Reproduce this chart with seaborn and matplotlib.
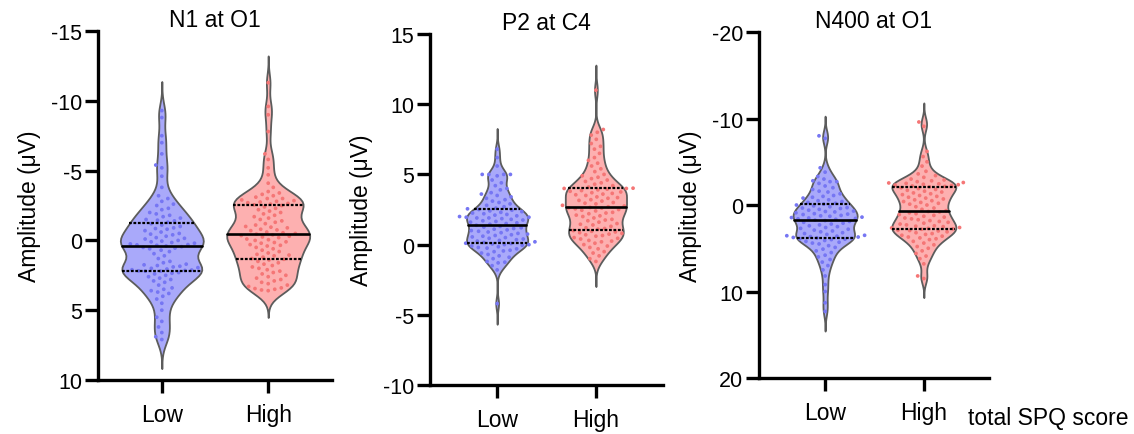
import numpy as np
import pandas as pd
import matplotlib
matplotlib.use("Agg")
import matplotlib.pyplot as plt
import seaborn as sns

groups = ["Low", "High"]

# N1 amplitude at O1 (µV)
n1_low = [-9.3, -8.8, -7.5, -7.0, -6.2, -5.4, -5.2, -4.6, -3.8, -3.2, -3.0, -2.8, -2.6,
          -2.5, -2.3, -2.2, -2.0, -1.9, -1.8, -1.7, -1.6, -1.5, -1.45, -1.4, -1.3,
          -1.2, -1.1, -1.0, -0.9, -0.85, -0.8, -0.7, -0.6, -0.5, -0.45, -0.4, -0.3,
          -0.2, -0.15, -0.1, 0.0, 0.05, 0.1, 0.15, 0.2, 0.25, 0.3, 0.32, 0.35, 0.4,
          0.45, 0.5, 0.55, 0.6, 0.7, 0.8, 0.95, 1.1, 1.3, 1.5, 1.6, 1.7, 1.75, 1.8,
          1.85, 1.9, 1.95, 2.0, 2.05, 2.1, 2.12, 2.15, 2.18, 2.2, 2.2,
          2.3, 2.35, 2.4, 2.5, 2.6, 2.7, 2.8, 2.9, 3.0, 3.2, 3.4, 3.5, 3.6, 3.7, 3.8,
          4.0, 4.2, 4.5, 5.0, 5.5, 5.8, 6.2, 6.6, 6.9, 7.1]
n1_high = [-11.3, -9.6, -9.0, -7.8, -6.2, -5.8, -5.2, -4.7, -4.1, -3.8, -3.5, -3.4, -3.3,
           -3.2, -3.1, -3.0, -3.0, -2.9, -2.85, -2.8, -2.75, -2.7, -2.65, -2.6, -2.55,
           -2.5, -2.4, -2.3, -2.2, -2.1, -2.0, -1.9, -1.8, -1.7, -1.6, -1.5, -1.4, -1.3,
           -1.2, -1.1, -1.0, -0.95, -0.9, -0.8, -0.75, -0.7, -0.6, -0.55, -0.5, -0.45,
           -0.4, -0.35, -0.3, -0.25, -0.2, -0.1, -0.05, 0.0, 0.1, 0.15, 0.2, 0.3, 0.35,
           0.4, 0.5, 0.6, 0.7, 0.8, 0.9, 1.0, 1.05, 1.1, 1.2, 1.3, 1.35,
           1.4, 1.5, 1.6, 1.7, 1.8, 1.9, 2.0, 2.1, 2.2, 2.3, 2.4, 2.5, 2.6, 2.7, 2.8,
           2.9, 3.0, 3.1, 3.2, 3.3, 3.4, 3.45, 3.5, 3.55, 3.6]

# P2 amplitude at C4 (µV)
p2_low = [-4.2, -1.8, -1.5, -1.3, -1.25, -1.2, -1.0, -0.9, -0.8, -0.7, -0.6, -0.5, -0.45,
          -0.4, -0.3, -0.25, -0.2, -0.15, -0.1, -0.05, 0.0, 0.0, 0.05, 0.08, 0.1,
          0.15, 0.2, 0.25, 0.3, 0.35, 0.4, 0.45, 0.5, 0.55, 0.6, 0.65, 0.7, 0.75, 0.8,
          0.85, 0.9, 0.95, 1.0, 1.05, 1.1, 1.15, 1.2, 1.25, 1.3, 1.38,
          1.45, 1.5, 1.55, 1.6, 1.65, 1.7, 1.75, 1.8, 1.85, 1.9, 1.9, 1.95, 1.95, 2.0,
          2.05, 2.1, 2.15, 2.2, 2.25, 2.3, 2.35, 2.4, 2.45, 2.5, 2.55,
          2.6, 2.7, 2.8, 2.9, 3.0, 3.1, 3.2, 3.3, 3.4, 3.5, 3.6, 3.7, 3.9, 4.0, 4.2,
          4.4, 4.6, 4.9, 5.0, 5.0, 5.0, 5.0, 5.6, 6.2, 6.8]
p2_high = [-1.2, -1.0, -0.8, -0.6, -0.5, -0.3, -0.2, -0.1, 0.0, 0.1, 0.2, 0.25, 0.3,
           0.4, 0.45, 0.5, 0.6, 0.65, 0.7, 0.75, 0.8, 0.85, 0.9, 0.95, 1.0,
           1.1, 1.15, 1.2, 1.3, 1.4, 1.45, 1.5, 1.6, 1.7, 1.75, 1.8, 1.9, 2.0, 2.05,
           2.1, 2.2, 2.25, 2.3, 2.4, 2.45, 2.5, 2.55, 2.6, 2.62, 2.65,
           2.7, 2.75, 2.8, 2.9, 2.95, 3.0, 3.1, 3.15, 3.2, 3.3, 3.35, 3.4, 3.5, 3.55,
           3.6, 3.65, 3.7, 3.75, 3.8, 3.85, 3.9, 3.95, 4.0, 4.0, 4.02,
           4.1, 4.2, 4.3, 4.4, 4.5, 4.6, 4.7, 4.8, 4.9, 5.0, 5.2, 5.4, 5.6, 5.8, 6.0,
           6.2, 6.5, 6.8, 7.0, 7.2, 7.5, 7.8, 8.0, 8.2, 11.0]

# N400 amplitude at O1 (µV)
n400_low = [-8.0, -7.7, -4.3, -3.8, -3.3, -3.0, -2.8, -2.7, -2.7, -2.5, -2.2, -2.0, -1.8,
            -1.6, -1.5, -1.3, -1.1, -1.0, -0.9, -0.8, -0.6, -0.5, -0.4, -0.3, -0.2,
            -0.1, 0.0, 0.1, 0.2, 0.3, 0.35, 0.4, 0.5, 0.6, 0.7, 0.75, 0.8, 0.9, 1.0,
            1.05, 1.1, 1.2, 1.25, 1.3, 1.4, 1.45, 1.5, 1.55, 1.6, 1.65,
            1.75, 1.8, 1.9, 2.0, 2.1, 2.2, 2.3, 2.4, 2.5, 2.6, 2.7, 2.8, 2.9, 3.0,
            3.1, 3.2, 3.3, 3.4, 3.5, 3.55, 3.6, 3.65, 3.7, 3.75, 3.8,
            3.85, 3.9, 3.95, 4.0, 4.1, 4.2, 4.3, 4.4, 4.5, 4.7, 4.9, 5.1, 5.3, 5.5, 5.8,
            6.0, 6.3, 6.6, 7.0, 7.5, 8.2, 9.2, 10.0, 11.3, 12.3]
n400_high = [-9.6, -9.1, -6.2, -5.6, -5.0, -4.5, -3.9, -3.6, -3.4, -3.2, -3.0, -2.9, -2.8,
             -2.7, -2.6, -2.55, -2.5, -2.45, -2.4, -2.35, -2.3, -2.25, -2.2, -2.15, -2.1,
             -2.0, -1.9, -1.8, -1.7, -1.6, -1.5, -1.4, -1.3, -1.2, -1.1, -1.0, -0.9, -0.8,
             -0.7, -0.6, -0.5, -0.4, -0.3, -0.2, -0.1, 0.0, 0.2, 0.35, 0.5, 0.65,
             0.75, 0.8, 0.9, 1.0, 1.1, 1.2, 1.3, 1.4, 1.5, 1.6, 1.7, 1.8, 1.9, 2.0,
             2.1, 2.2, 2.3, 2.4, 2.45, 2.5, 2.6, 2.65, 2.7, 2.75, 2.8,
             2.9, 2.95, 3.0, 3.1, 3.2, 3.3, 3.4, 3.5, 3.6, 3.7, 3.8, 3.9, 4.0, 4.2, 4.4,
             4.6, 4.8, 5.0, 5.3, 5.6, 5.9, 6.2, 6.8, 8.2, 8.5]

titles = ["N1 at O1", "P2 at C4", "N400 at O1"]
y_ticks = [[-15, -10, -5, 0, 5, 10], [-10, -5, 0, 5, 10, 15], [-20, -10, 0, 10, 20]]
y_limits = [(10, -15), (-10, 15), (20, -20)]

fill_colors = {"Low": "#A9A9FA", "High": "#FDB0B0"}
dot_colors = {"Low": "#7676F3", "High": "#F57676"}

sns.set_theme(style="ticks")
plt.rcParams["font.family"] = ["Liberation Sans", "DejaVu Sans"]
plt.rcParams["axes.unicode_minus"] = False
for key in ("text.color", "axes.labelcolor", "xtick.color", "ytick.color"):
    plt.rcParams[key] = "black"

fig = plt.figure(figsize=(11.34, 4.35), dpi=100)

rects = [[0.0864, 0.1241, 0.2064, 0.8023],
         [0.3792, 0.1126, 0.2055, 0.8069],
         [0.6693, 0.1287, 0.2028, 0.7954]]
xlims = [(-0.6, 1.6), (-0.68, 1.68), (-0.67, 1.66)]
widths = [0.78, 0.62, 0.65]
cuts = [3, 3.5, 3]

series = [(n1_low, n1_high), (p2_low, p2_high), (n400_low, n400_high)]
swarm_sets = []

for i, (low, high) in enumerate(series):
    ax = fig.add_axes(rects[i])
    df = pd.DataFrame({"group": ["Low"] * len(low) + ["High"] * len(high),
                       "amp": list(low) + list(high)})
    sns.violinplot(data=df, x="group", y="amp", hue="group", order=groups,
                   hue_order=groups, palette=fill_colors, saturation=1,
                   inner="quart", density_norm="width", width=widths[i],
                   bw_adjust=0.55, cut=cuts[i], linewidth=1.3, linecolor="#5c5c5c",
                   inner_kws={"color": "black", "linewidth": 1.6},
                   legend=False, ax=ax)
    quart_lines = list(ax.lines)
    n_before = len(ax.collections)
    # lay the swarm out with generous spacing; markers are shrunk after layout
    sns.swarmplot(data=df, x="group", y="amp", hue="group", order=groups,
                  hue_order=groups, palette=dot_colors, size=4.6,
                  legend=False, warn_thresh=1.0, ax=ax)
    swarm_sets.extend(ax.collections[n_before:])
    for k, ln in enumerate(quart_lines):
        ln.set_zorder(5)
        if k % 3 == 1:
            ln.set_linestyle("-")
            ln.set_linewidth(1.9)

    ax.set_xlim(*xlims[i])
    ax.set_ylim(*y_limits[i])
    ax.set_yticks(y_ticks[i])
    ax.set_xlabel("")
    ax.set_ylabel("Amplitude (μV)", fontsize=16.5, labelpad=7)
    ax.set_title(titles[i], fontsize=16.5, pad=1)
    for side in ("top", "right"):
        ax.spines[side].set_visible(False)
    for side in ("left", "bottom"):
        ax.spines[side].set_linewidth(2.4)
        ax.spines[side].set_color("black")
    ax.tick_params(axis="both", length=9.5, width=2.4, color="black")
    ax.tick_params(axis="y", labelsize=15.5, pad=2)
    ax.tick_params(axis="x", labelsize=16.5, pad=7)

fig.text(968 / 1134, 1 - 425 / 435, "total SPQ score", fontsize=16.5,
         ha="left", va="baseline")

# first draw fixes the swarm positions, then the dots are made smaller
fig.canvas.draw()
for coll in swarm_sets:
    if "draw" in coll.__dict__:
        del coll.draw
    coll.set_sizes([2.7 ** 2])

fig.savefig("out.png", dpi=100)
